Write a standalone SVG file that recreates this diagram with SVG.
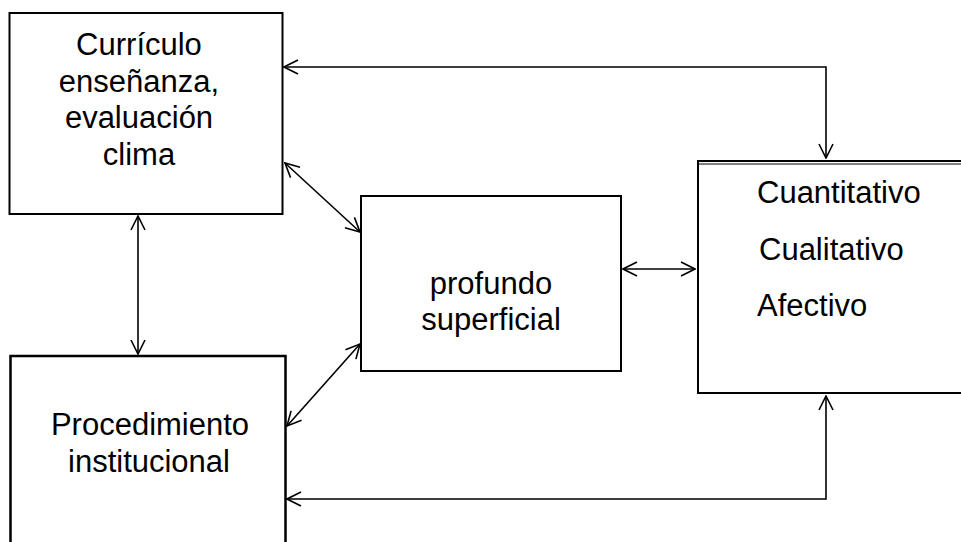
<svg xmlns="http://www.w3.org/2000/svg" width="961" height="542" viewBox="0 0 961 542">
<style>
.box{fill:#fff;stroke:#000;stroke-width:2}
.t{font-family:"Liberation Sans",Arial,sans-serif;font-size:31px;fill:#000}
.c{text-anchor:middle}
.con{fill:none;stroke:#000;stroke-width:1.6;marker-start:url(#ah);marker-end:url(#ah)}
</style>
<defs>
<marker id="ah" viewBox="0 0 16 16" refX="15" refY="8" markerUnits="userSpaceOnUse" markerWidth="16" markerHeight="16" orient="auto-start-reverse">
<path d="M1,1 L15,8 L1,15" fill="none" stroke="#000" stroke-width="1.6"/>
</marker>
</defs>
<rect width="961" height="542" fill="#fff"/>
<g id="curriculo">
<rect class="box" x="9.5" y="13" width="273" height="201"/>
<text class="t c" x="139" y="55">Currículo</text>
<text class="t c" x="139" y="92">enseñanza,</text>
<text class="t c" x="139" y="128">evaluación</text>
<text class="t c" x="139" y="165">clima</text>
</g>
<g id="procedimiento">
<rect class="box" x="10.5" y="356" width="275" height="220" style="stroke-width:2.5"/>
<text class="t c" x="150" y="435">Procedimiento</text>
<text class="t c" x="149" y="472">institucional</text>
</g>
<g id="profundo">
<rect class="box" x="361" y="196" width="260" height="175"/>
<text class="t c" x="491" y="294">profundo</text>
<text class="t c" x="491" y="330">superficial</text>
</g>
<g id="enfoques">
<rect class="box" x="698" y="161" width="300" height="232"/>
<line x1="698" y1="164" x2="961" y2="164" stroke="#000" stroke-width="1"/>
<text class="t" x="757" y="203">Cuantitativo</text>
<text class="t" x="759" y="260">Cualitativo</text>
<text class="t" x="757" y="316">Afectivo</text>
</g>
<g id="connectors">
<path class="con" d="M826,158 L826,67 L284,67"/>
<path class="con" d="M826,396 L826,499 L287,499"/>
<path class="con" d="M138,216 L138,354"/>
<path class="con" d="M285,163 L360,232"/>
<path class="con" d="M360,344 L287,426"/>
<path class="con" d="M623,269 L695,269"/>
</g>
</svg>
